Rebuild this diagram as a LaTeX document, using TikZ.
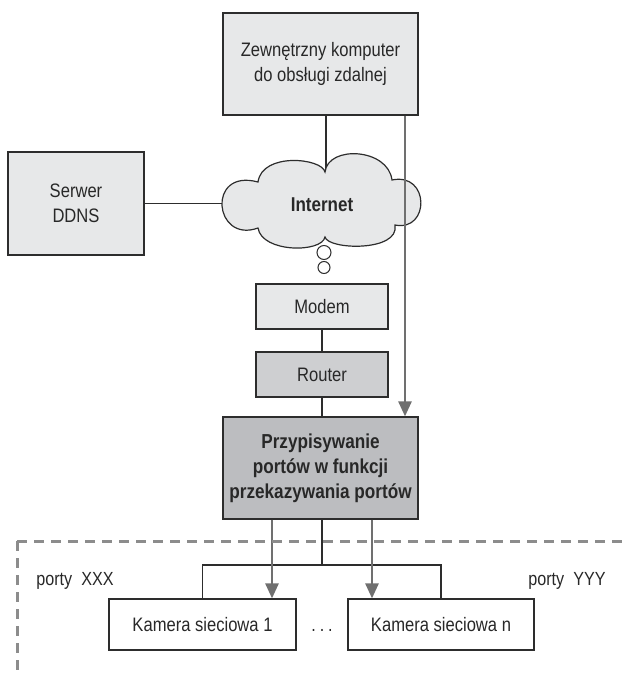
\documentclass[tikz,border=0pt]{standalone}
\usepackage{fontspec}
\setmainfont{Liberation Sans}[FakeStretch=0.85]
\usetikzlibrary{arrows.meta,backgrounds}
\definecolor{boxline}{RGB}{45,45,45}
\definecolor{lightbox}{RGB}{231,232,233}
\definecolor{midbox}{RGB}{206,207,209}
\definecolor{darkbox}{RGB}{188,189,192}
\definecolor{arrowgray}{RGB}{112,112,112}
\definecolor{dashgray}{RGB}{140,140,140}
\definecolor{textgray}{RGB}{40,40,40}

\begin{document}
\begin{tikzpicture}[x=1pt,y=-1pt,
    box/.style={draw=boxline,line width=1.2pt,align=center,text=textgray,
      font=\fontsize{19.5}{25}\selectfont,inner sep=0pt},
    wire/.style={draw=boxline,line width=1.2pt},
    fwd/.style={arrowgray,line width=2.6pt,-{Triangle[width=13pt,length=15pt]}},
    label/.style={text=textgray,font=\fontsize{19}{20}\selectfont}]
    \useasboundingbox (0,0) rectangle (625,677);
    \node[box,fill=lightbox,minimum width=195pt,minimum height=102pt] (remote)
      at (320.5,64) {Zewnętrzny komputer\\do obsługi zdalnej};
    \node[box,fill=lightbox,minimum width=136pt,minimum height=103pt] (ddns)
      at (76,203.5) {Serwer\\DDNS};
    % chmura
    \draw[boxline,line width=1.2pt,fill=lightbox]
      (258,228) .. controls (214,244) and (206,168) .. (258,182)
      .. controls (262,152) and (322,158) .. (325,172)
      .. controls (328,145) and (388,148) .. (392,180)
      .. controls (430,172) and (430,232) .. (395,225)
      .. controls (400,252) and (328,250) .. (325,237)
      .. controls (322,253) and (262,253) .. cycle;
    \node[text=textgray,font=\fontsize{20}{20}\selectfont\bfseries] (inet)
      at (322,205) {Internet};
    \node[circle,draw=boxline,line width=1pt,fill=white,minimum size=14pt,
      inner sep=0pt] (bubA) at (324,252.5) {};
    \node[circle,draw=boxline,line width=1pt,fill=white,minimum size=12pt,
      inner sep=0pt] (bubB) at (324,267.5) {};
    \node[box,fill=lightbox,minimum width=132pt,minimum height=45pt] (modem)
      at (322,306.5) {Modem};
    \node[box,fill=midbox,minimum width=132pt,minimum height=45pt] (router)
      at (322,374.5) {Router};
    \node[box,fill=darkbox,minimum width=195pt,minimum height=102pt,
      font=\fontsize{20.2}{25}\selectfont\bfseries] (fwdbox)
      at (320.5,468) {Przypisywanie\\portów w funkcji\\przekazywania portów};
    \node[box,fill=white,minimum width=187pt,minimum height=51pt] (camA)
      at (202.5,624.5) {Kamera sieciowa 1};
    \node[box,fill=white,minimum width=186pt,minimum height=51pt] (camN)
      at (441,624.5) {Kamera sieciowa n};
    \node[label,anchor=base] (dots) at (322,631) {.\hspace{4pt}.\hspace{4pt}.};
    \node[label] (portsX) at (75,581) {porty\ \ XXX};
    \node[label] (portsY) at (567,581) {porty\ \ YYY};
    \coordinate (split) at (322,565);
    \begin{scope}[on background layer]
      \draw[wire] ([xshift=5.5pt]remote.south) -- ([xshift=5.5pt]remote.south |- inet.center);
      \draw[wire] (ddns.east) -- (ddns.east -| inet.center);
    \end{scope}
    \draw[wire] (modem) -- (router);
    \draw[wire] (router.south) -- (router.south |- fwdbox.north);
    \draw[fwd] ([xshift=84.5pt]remote.south) -- ([xshift=84.5pt]fwdbox.north);
    \draw[wire] (fwdbox.south -| split) -- (split);
    \draw[wire] (camA.north) |- (split) -| (camN.north);
    \draw[fwd] ([xshift=-48.5pt]fwdbox.south) -- ([xshift=-48.5pt]fwdbox.south |- camA.north);
    \draw[fwd] ([xshift=51.5pt]fwdbox.south) -- ([xshift=51.5pt]fwdbox.south |- camN.north);
    \draw[dashgray,line width=3pt,dash pattern=on 10pt off 7pt] (17,541) -- (625,541);
    \draw[dashgray,line width=3pt,dash pattern=on 10pt off 7pt] (17,541) -- (17,677);
\end{tikzpicture}
\end{document}
